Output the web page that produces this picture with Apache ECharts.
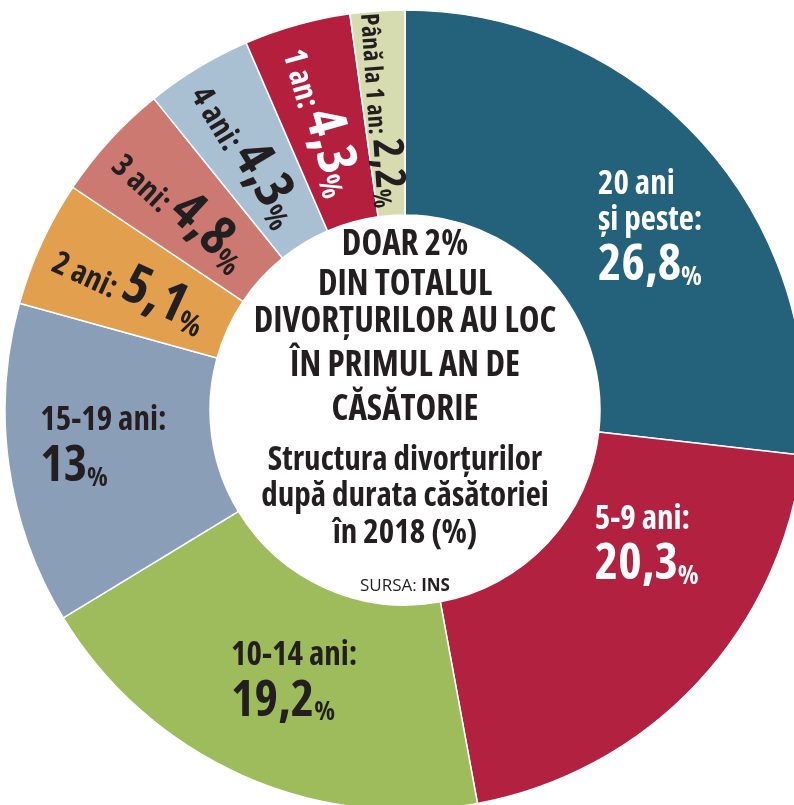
<!DOCTYPE html>
<html>
<head>
<meta charset="utf-8">
<script src="https://cdn.jsdelivr.net/npm/echarts@6/dist/echarts.min.js"></script>
<style>
  html, body { margin: 0; padding: 0; background: #fff; }
  #chart { width: 794px; height: 805px; }
</style>
</head>
<body>
<div id="chart"></div>
<script>
// durata căsătoriei, în sensul acelor de ceasornic de la ora 12
const categories = ['20 ani și peste', '5-9 ani', '10-14 ani', '15-19 ani', '2 ani', '3 ani', '4 ani', '1 an', 'Până la 1 an'];
const shares = [26.8, 20.3, 19.2, 13, 5.1, 4.8, 4.3, 4.3, 2.2];

const palette = ['#23627a', '#b2213f', '#9ebc5c', '#8a9fb7', '#e2a04e', '#cc7a71', '#a8c0d1', '#b41f3e', '#d6dcaf'];
const whiteText = ['20 ani și peste', '5-9 ani', '1 an'];
// felii mari: eticheta orizontală, rândurile aliniate la stânga (deplasare față de mijlocul inelului)
const bigLabelShift = {
  '20 ani și peste': [21, 18],
  '5-9 ani': [22, -70],
  '10-14 ani': [12, -3],
  '15-19 ani': [-4, -5]
};

const FONT = '"Open Sans", "DejaVu Sans Condensed", sans-serif';
const W = 'bold semi-condensed'; // fontul are axa de lățime
const INK = '#231f20';

const fmt = v => String(v).replace('.', ',');

function tok(size, lh, color, align) {
  const s = { fontFamily: FONT, fontWeight: W, fontSize: size, lineHeight: lh, color: color, verticalAlign: 'bottom' };
  if (align) s.align = align;
  return s;
}

function richFor(color, big) {
  const a = big ? 'left' : null;
  return {
    n: tok(33, 36, color, a),
    v: tok(50, 54, color, a),
    p: tok(27, 54, color, a),
    s: tok(32, 56, color),
    sv: tok(54, 56, color),
    sp: tok(30, 56, color),
    t: tok(25, 44, color),
    tv: tok(42, 44, color),
    tp: tok(25, 44, color)
  };
}

const seriesData = categories.map((name, i) => {
  const color = whiteText.includes(name) ? '#ffffff' : INK;
  const shift = bigLabelShift[name];
  const label = shift
    ? { rotate: 0, offset: shift }
    : { rotate: 'radial' };
  label.rich = richFor(color, !!shift);
  return {
    name: name,
    value: shares[i],
    itemStyle: { color: palette[i] },
    label: label
  };
});

function labelText(p) {
  const v = fmt(p.value);
  if (bigLabelShift[p.name]) {
    const head = p.name.replace(' și ', '\nși ').split('\n');
    const lines = head.map((h, k) => '{n|' + h + (k === head.length - 1 ? ':' : '') + '}');
    return lines.join('\n') + '\n{v|' + v + '}{p|%}';
  }
  if (p.name === 'Până la 1 an') return '{t|' + p.name + ': }{tv|' + v + '}{tp|%}';
  return '{s|' + p.name + ': }{sv|' + v + '}{sp|%}';
}

const chart = echarts.init(document.getElementById('chart'));

const centerLines = [
  { text: 'DOAR 2%', y: 245, size: 35 },
  { text: 'DIN TOTALUL', y: 285, size: 35 },
  { text: 'DIVORȚURILOR AU LOC', y: 322, size: 35 },
  { text: 'ÎN PRIMUL AN DE', y: 366, size: 35 },
  { text: 'CĂSĂTORIE', y: 410, size: 35 },
  { text: 'Structura divorțurilor', y: 461, size: 33 },
  { text: 'după durata căsătoriei', y: 497, size: 33 },
  { text: 'în 2018 (%)', y: 534, size: 33 }
];

const graphics = centerLines.map(l => ({
  type: 'text',
  x: 405,
  y: l.y,
  style: {
    text: l.text,
    fontFamily: FONT,
    fontWeight: W,
    fontSize: l.size,
    fill: INK,
    textAlign: 'center',
    textVerticalAlign: 'middle'
  }
}));
graphics.push({
  type: 'text',
  x: 405,
  y: 586,
  style: {
    text: '{a|SURSA: }{b|INS}',
    textAlign: 'center',
    textVerticalAlign: 'middle',
    rich: {
      a: { fontFamily: FONT, fontWeight: 'normal', fontSize: 17, fill: INK },
      b: { fontFamily: FONT, fontWeight: 'bold', fontSize: 17, fill: INK }
    }
  }
});

const option = {
  backgroundColor: '#ffffff',
  animation: false,
  series: [
    {
      type: 'pie',
      center: [405, 410],
      radius: [195, 400],
      startAngle: 90,
      clockwise: true,
      avoidLabelOverlap: false,
      minShowLabelAngle: 0,
      labelLayout: { hideOverlap: false },
      itemStyle: { borderColor: '#ffffff', borderWidth: 1.5 },
      label: {
        show: true,
        position: 'inside',
        formatter: labelText
      },
      labelLine: { show: false },
      emphasis: { disabled: true },
      data: seriesData
    }
  ],
  graphic: graphics
};

chart.setOption(option);
</script>
</body>
</html>
